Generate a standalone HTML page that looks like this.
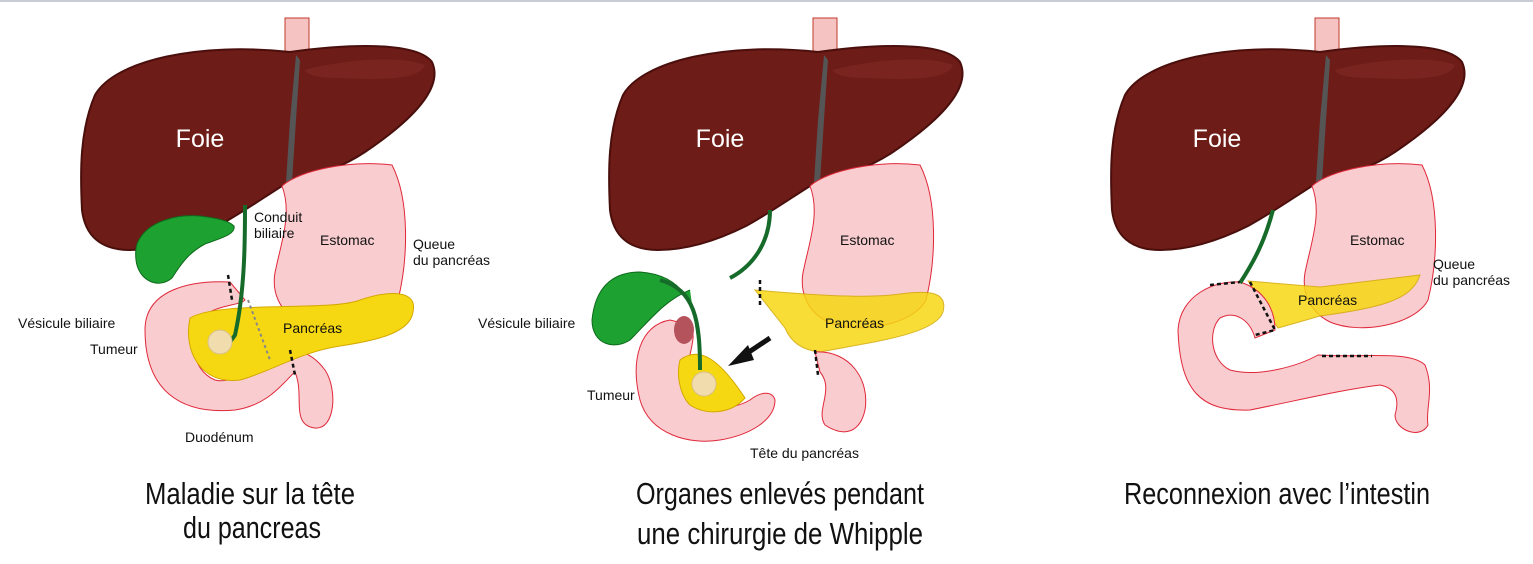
<!DOCTYPE html>
<html><head><meta charset="utf-8"><style>
html,body{margin:0;padding:0;background:#fff;}
svg{display:block;}
text{font-family:"Liberation Sans",sans-serif;fill:#111;}
</style></head><body>
<svg width="1533" height="564" viewBox="0 0 1533 564" xmlns="http://www.w3.org/2000/svg">
<defs>
<g id="liver">
 <rect x="285" y="18" width="24" height="50" fill="#f6c3c3" stroke="#c0392b" stroke-width="1"/>
 <path d="M95,95 C115,60 200,42 290,52 C340,45 415,40 432,62 C445,90 405,125 365,152 C335,172 305,178 282,186 C260,200 240,214 218,226 C190,240 160,250 130,250 C100,250 85,235 82,210 C80,170 80,130 95,95 Z" fill="#6e1c17" stroke="#4a0f0c" stroke-width="2"/>
 <path d="M305,70 C340,60 400,55 425,65 C420,80 380,80 340,78 C320,78 308,76 305,70 Z" fill="#7d2822" opacity="0.7"/>
 <path d="M296,55 L300,60 L296,120 L292,182 L286,182 L290,120 Z" fill="#555"/>
</g>
<g id="stomach">
 <path d="M282,186 C300,170 350,160 392,165 C410,200 408,260 398,300 C385,325 330,335 300,322 C280,312 270,292 276,268 C282,240 292,212 282,186 Z" fill="#f9cdcf" stroke="#e0283a" stroke-width="1"/>
</g>
</defs>

<line x1="0" y1="1" x2="1533" y2="1" stroke="#c8ccd4" stroke-width="2"/>

<!-- Panel 1 -->
<use href="#liver"/>
<use href="#stomach"/>
<path d="M230,282 C190,280 145,290 145,330 C145,390 180,415 235,410 C270,405 285,380 295,372 C305,395 290,425 315,428 C335,430 338,390 325,370 C310,350 290,345 270,355 C250,365 235,385 215,380 C190,370 185,330 210,312 C222,305 240,305 245,300 Z" fill="#f9cdcf" stroke="#e0283a" stroke-width="1"/>
<path d="M190,318 C220,300 330,312 360,300 C390,290 418,290 413,312 C410,332 380,340 340,346 C300,352 270,372 240,380 C200,385 183,350 190,318 Z" fill="#f6d812" stroke="#d4a800" stroke-width="1"/>
<path d="M245,205 C245,240 245,290 235,335 L228,345" fill="none" stroke="#166b2a" stroke-width="4"/>
<path d="M140,238 C150,222 175,214 200,216 C215,218 228,220 234,226 C236,234 222,238 205,244 C190,252 182,262 172,278 C158,290 138,280 136,260 C135,250 136,244 140,238 Z" fill="#1da131" stroke="#0e6a1c" stroke-width="1"/>
<circle cx="220" cy="342" r="12" fill="#f1dcae" stroke="#d8c089"/>
<path d="M228,275 L232,300 M290,350 L295,375" stroke="#111" stroke-width="2.5" stroke-dasharray="4,3"/>
<path d="M248,300 L270,360" stroke="#888" stroke-width="2" stroke-dasharray="3,3"/>
<text x="200" y="147" font-size="25" style="fill:#fff" text-anchor="middle">Foie</text>
<text x="254" y="222" font-size="14">Conduit</text>
<text x="254" y="238" font-size="14">biliaire</text>
<text x="320" y="245" font-size="14">Estomac</text>
<text x="413" y="249" font-size="14">Queue</text>
<text x="413" y="265" font-size="14">du pancréas</text>
<text x="283" y="333" font-size="14">Pancréas</text>
<text x="18" y="328" font-size="14">Vésicule biliaire</text>
<text x="90" y="354" font-size="14">Tumeur</text>
<text x="185" y="442" font-size="14">Duodénum</text>
<text x="250" y="504" font-size="31" text-anchor="middle" textLength="210" lengthAdjust="spacingAndGlyphs">Maladie sur la tête</text>
<text x="252" y="538" font-size="31" text-anchor="middle" textLength="138" lengthAdjust="spacingAndGlyphs">du pancreas</text>

<!-- Panel 2 -->
<g transform="translate(528,0)"><use href="#liver"/><use href="#stomach"/></g>
<path d="M755,290 C780,292 860,300 900,294 C930,290 948,292 943,312 C935,335 870,342 820,352 C800,350 790,340 785,328 Z" fill="#f6d812" stroke="#d4a800" stroke-width="1" opacity="0.85"/>
<path d="M815,352 C850,350 870,380 865,410 C860,432 845,438 825,425 C815,410 835,390 820,372 Z" fill="#f9cdcf" stroke="#e0283a" stroke-width="1"/>
<path d="M670,320 C640,325 630,360 640,400 C650,435 690,445 720,440 C750,435 775,420 775,400 C772,390 760,392 750,400 C730,412 700,410 690,385 C682,360 700,340 690,325 Z" fill="#f9cdcf" stroke="#e0283a" stroke-width="1"/>
<ellipse cx="684" cy="330" rx="10" ry="14" fill="#b5535c"/>
<path d="M680,360 C700,345 720,360 745,398 C730,415 705,415 690,405 C680,395 676,375 680,360 Z" fill="#f6d812" stroke="#d4a800"/>
<circle cx="704" cy="384" r="12" fill="#f1dcae" stroke="#d8c089"/>
<path d="M700,360 C700,300 680,275 640,272 C610,272 595,290 592,320 C592,345 615,350 630,340 C650,320 665,300 690,290" fill="#1da131" stroke="#0e6a1c"/>
<path d="M700,370 C700,320 695,290 660,280" fill="none" stroke="#166b2a" stroke-width="4"/>
<path d="M770,210 C770,240 755,265 730,278" fill="none" stroke="#166b2a" stroke-width="4"/>
<path d="M760,280 L760,305 M815,350 L818,375" stroke="#111" stroke-width="2.5" stroke-dasharray="4,3"/>
<path d="M770,338 L740,358" stroke="#111" stroke-width="5"/>
<polygon points="728,366 748,345 754,360" fill="#111"/>
<text x="720" y="147" font-size="25" style="fill:#fff" text-anchor="middle">Foie</text>
<text x="840" y="245" font-size="14">Estomac</text>
<text x="825" y="328" font-size="14">Pancréas</text>
<text x="478" y="328" font-size="14">Vésicule biliaire</text>
<text x="587" y="400" font-size="14">Tumeur</text>
<text x="750" y="458" font-size="14">Tête du pancréas</text>
<text x="780" y="504" font-size="31" text-anchor="middle" textLength="288" lengthAdjust="spacingAndGlyphs">Organes enlevés pendant</text>
<text x="780" y="544" font-size="31" text-anchor="middle" textLength="286" lengthAdjust="spacingAndGlyphs">une chirurgie de Whipple</text>

<!-- Panel 3 -->
<g transform="translate(1030,0)"><use href="#liver"/><use href="#stomach"/></g>
<path d="M1248,281 L1320,287 L1420,275 C1412,300 1380,308 1320,316 L1278,328 Z" fill="#f6d812" stroke="#d4a800" opacity="0.85"/>
<path d="M1318,355 C1360,358 1410,350 1425,365 C1435,390 1425,410 1428,425 C1420,440 1395,430 1395,415 C1400,398 1395,388 1380,385 C1340,390 1300,400 1250,410 C1200,412 1180,390 1178,330 C1180,295 1215,280 1240,282 C1265,290 1275,310 1275,330 L1255,338 C1250,320 1235,310 1220,318 C1208,330 1210,360 1230,370 C1260,378 1300,365 1318,355 Z" fill="#f9cdcf" stroke="#e0283a" stroke-width="1"/>
<path d="M1273,210 C1265,240 1255,260 1240,283" fill="none" stroke="#166b2a" stroke-width="4"/>
<path d="M1210,285 L1240,282 M1250,282 L1275,330 L1255,335 M1322,356 L1372,356" stroke="#111" stroke-width="2.5" stroke-dasharray="4,3" fill="none"/>
<text x="1217" y="147" font-size="25" style="fill:#fff" text-anchor="middle">Foie</text>
<text x="1350" y="245" font-size="14">Estomac</text>
<text x="1298" y="305" font-size="14">Pancréas</text>
<text x="1433" y="269" font-size="14">Queue</text>
<text x="1433" y="285" font-size="14">du pancréas</text>
<text x="1277" y="504" font-size="31" text-anchor="middle" textLength="306" lengthAdjust="spacingAndGlyphs">Reconnexion avec l’intestin</text>
</svg>
</body></html>
